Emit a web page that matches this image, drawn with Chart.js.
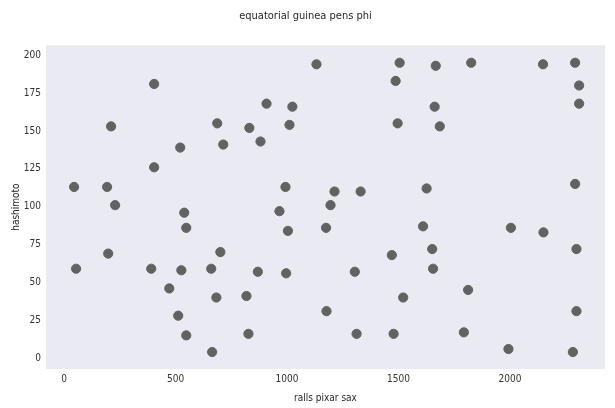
<!DOCTYPE html>
<html>
<head>
<meta charset="utf-8">
<script src="https://cdn.jsdelivr.net/npm/chart.js@4"></script>
<style>
  html, body { margin: 0; padding: 0; background: #fff; }
  #wrap { width: 615px; height: 408px; }
</style>
</head>
<body>
<div id="wrap"><canvas id="chart"></canvas></div>
<script>
// DATA
const title = 'equatorial guinea pens phi'
const xLabel = 'ralls pixar sax'
const yLabel = 'hashimoto'
const xTicks = [0, 500, 1000, 1500, 2000]
const yTicks = [0, 25, 50, 75, 100, 125, 150, 175, 200]

const xs = [
    45, 54, 193, 198, 211, 229, 391, 404, 404, 472,
    512, 521, 526, 539, 548, 548, 664, 660, 687, 683,
    701, 714, 818, 831, 827, 869, 881, 908, 966, 993,
    996, 1004, 1011, 1024, 1132, 1175, 1177, 1195, 1213, 1304,
    1312, 1330, 1470, 1478, 1487, 1496, 1505, 1521, 1610, 1626,
    1651, 1655, 1662, 1667, 1685, 1793, 1812, 1826, 1993, 2004,
    2148, 2150, 2282, 2292, 2292, 2298, 2298, 2310, 2310,
]
const ys = [
    113, 59, 113, 69, 153, 101, 59, 181, 126, 46,
    28, 139, 58, 96, 86, 15, 4, 59, 155, 40,
    70, 141, 41, 152, 16, 57, 143, 168, 97, 113,
    56, 84, 154, 166, 194, 86, 31, 101, 110, 57,
    16, 110, 68, 16, 183, 155, 195, 40, 87, 112,
    72, 59, 166, 193, 153, 17, 45, 195, 6, 86,
    194, 83, 4, 195, 115, 72, 31, 180, 168,
]

const points = xs.map((x, i) => ({x, y: ys[i]}))

// plot background
const bgPlugin = {
    id: 'bg',
    beforeDraw: (chart) => {
        const {ctx, chartArea: a} = chart
        ctx.save()
        ctx.fillStyle = '#eaeaf2'
        ctx.fillRect(a.left, a.top, a.right - a.left, a.bottom - a.top)
        ctx.restore()
    }
}

const fam = '"DejaVu Sans Condensed", "DejaVu Sans", sans-serif'
const font = {family: fam, size: 10}

new Chart(document.getElementById('chart'), {
    type: 'scatter',
    data: {
        datasets: [{
            data: points,
            backgroundColor: '#626262',
            borderColor: '#626262',
            pointRadius: 4.6,
            pointHoverRadius: 4.6,
        }]
    },
    options: {
        responsive: true,
        maintainAspectRatio: false,
        animation: false,
        layout: {padding: {left: 6, right: 10, top: 2, bottom: 0}},
        plugins: {
            legend: {display: false},
            tooltip: {enabled: false},
            title: {
                display: true,
                text: title,
                color: '#262626',
                font: {family: fam, size: 11, weight: 'normal'},
                padding: {top: 8, bottom: 22},
            },
        },
        scales: {
            x: {
                type: 'linear',
                min: -81, max: 2426,
                afterBuildTicks: (s) => { s.ticks = xTicks.map(v => ({value: v})) },
                afterFit: (s) => { s.height = 39 },
                grid: {display: false, drawTicks: false},
                border: {display: false},
                ticks: {color: '#333', font, padding: 4, callback: (v) => String(v)},
                title: {display: true, text: xLabel, color: '#262626', font, padding: {top: 0}},
            },
            y: {
                type: 'linear',
                min: -7.2, max: 206.6,
                afterBuildTicks: (s) => { s.ticks = yTicks.map(v => ({value: v})) },
                afterFit: (s) => { s.width = 40 },
                grid: {display: false, drawTicks: false},
                border: {display: false},
                ticks: {color: '#333', font, padding: 5, callback: (v) => String(v)},
                title: {display: true, text: yLabel, color: '#262626', font, padding: {bottom: 2}},
            },
        },
    },
    plugins: [bgPlugin],
})
</script>
</body>
</html>
